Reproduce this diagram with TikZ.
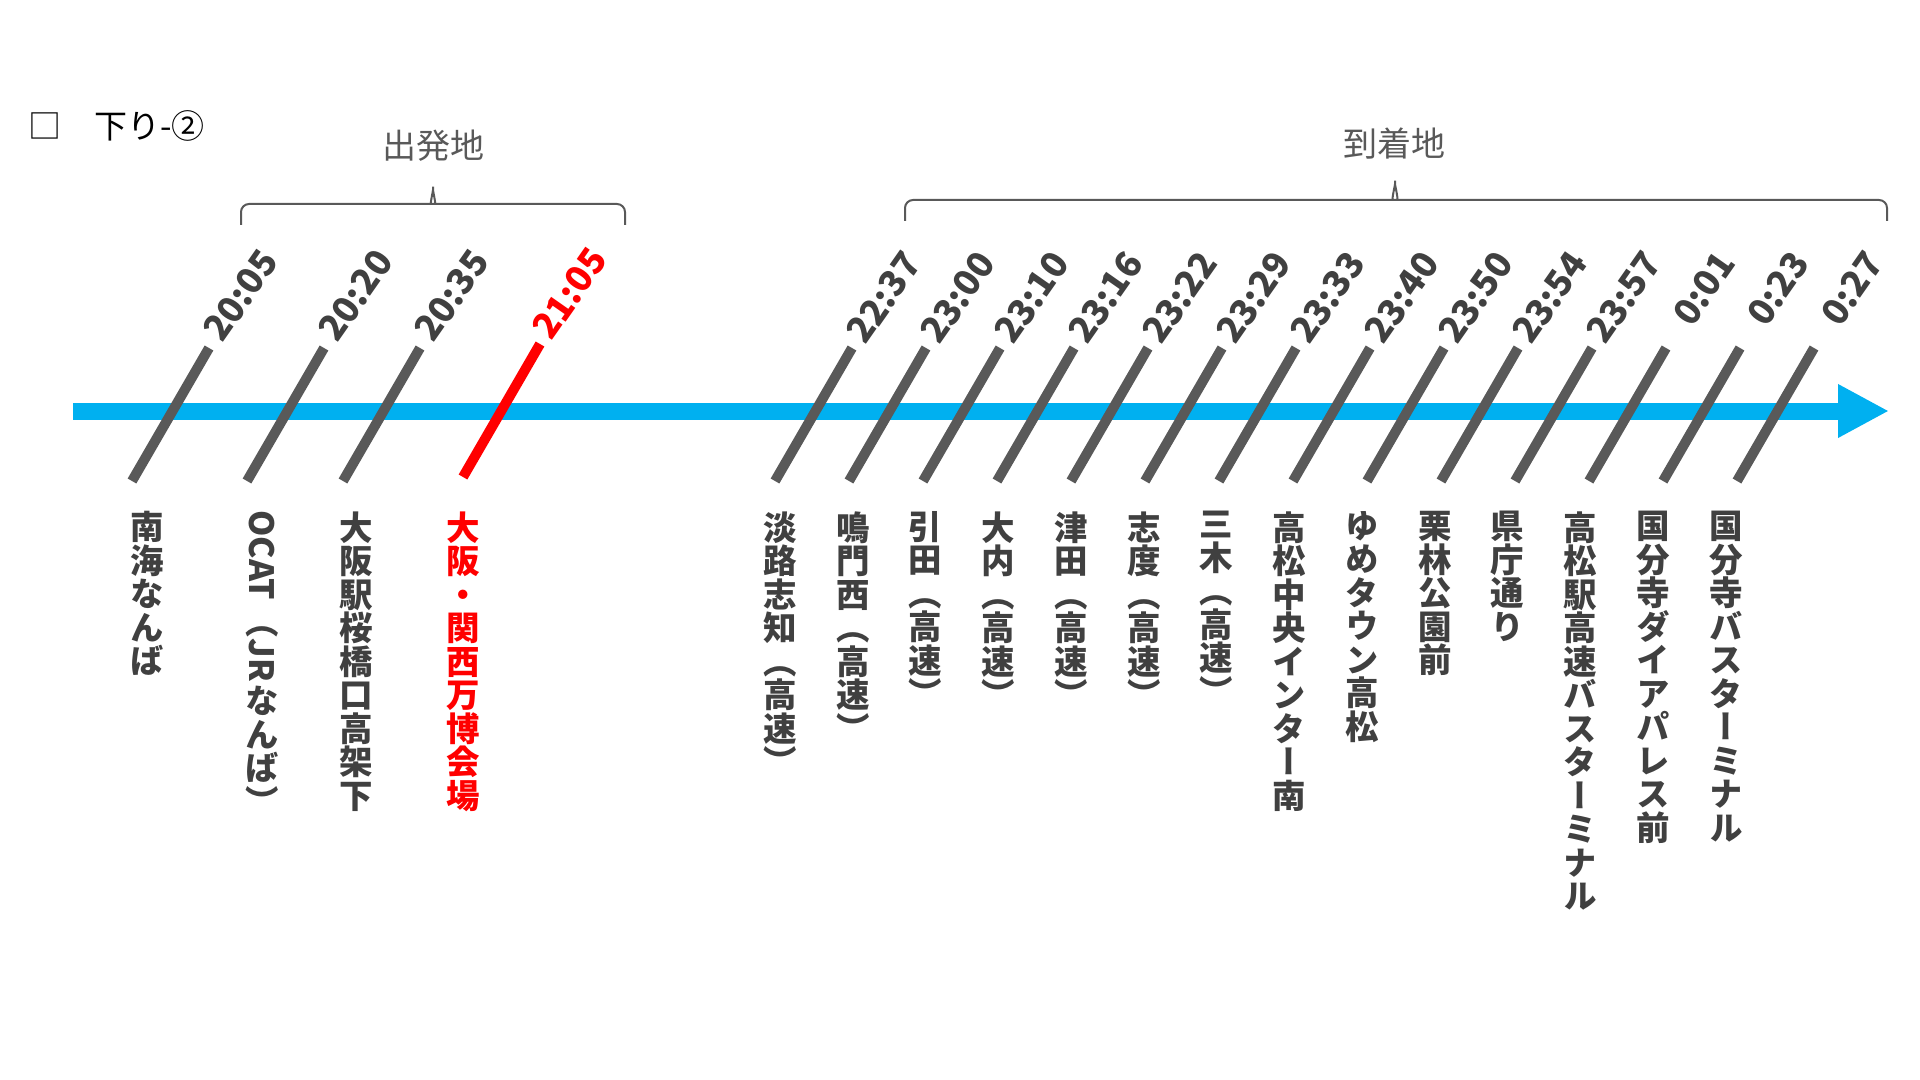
\documentclass[tikz,border=0pt]{standalone}
\usepackage{fontspec}
\usepackage{graphicx}
\usetikzlibrary{arrows.meta}
\newfontfamily\jpfont{Noto Sans CJK JP}
\newfontfamily\jpvert[RawFeature=+vert]{Noto Sans CJK JP}
\definecolor{tickgray}{HTML}{595959}
\definecolor{labelgray}{HTML}{404040}
\definecolor{lineblue}{HTML}{00B0F0}
\tikzset{
  timeline/.style={line width=8.5pt, lineblue, -{Triangle[length=25.5pt,width=25pt]}},
  tick/.style={line width=5pt, tickgray},
  timelabel/.style={rotate=55, anchor=south east, inner sep=0pt, text=labelgray, font=\jpfont\bfseries\fontsize{18}{18}\selectfont},
  station/.style={anchor=north, align=center, inner sep=0pt, text=labelgray, font=\jpvert\bfseries\fontsize{16.75}{16.75}\selectfont},
  latin/.style={station, rotate=-90, anchor=west},
  bracket/.style={tickgray, line width=1pt, rounded corners=4pt},
  bracelabel/.style={text=tickgray, font=\jpfont\fontsize{17}{17}\selectfont}
}
\begin{document}
\begin{tikzpicture}[x=0.5pt,y=-0.5pt]
\useasboundingbox (0,0) rectangle (1920,1080);
\node[anchor=west, font=\jpfont\fontsize{16.5}{16.5}\selectfont] (title) at (21,126) {□　下り-②};
\node[bracelabel] (dep) at (433,146) {出発地};
\node[bracelabel] (arr) at (1394,144) {到着地};
\draw[bracket] (241,225) -- (241,204) -- (427,204) to[out=0,in=-90] (433,182) to[out=-90,in=180] (439,204) -- (625,204) -- (625,225);
\draw[bracket] (905,221) -- (905,200) -- (1389,200) to[out=0,in=-90] (1395,176) to[out=-90,in=180] (1401,200) -- (1887,200) -- (1887,221);
\coordinate (start) at (73,411);
\coordinate (end) at (1889,411);
\draw[timeline] (start) -- (end);
\foreach \x/\t [count=\i] in {132/20:05,247/20:20,343/20:35} {
  \draw[tick] (\x,481) -- ++(77,-133);
  \node[timelabel] (dt\i) at (\x+149,262) {\t};
}
\draw[tick, red] (463,477) -- ++(77,-133);
\node[timelabel, text=red] (dt4) at (610,260) {21:05};
\foreach \t [count=\i from 0] in {22:37,23:00,23:10,23:16,23:22,23:29,23:33,23:40,23:50,23:54,23:57,0:01,0:23,0:27} {
  \draw[tick] (775+74*\i,481) -- ++(77,-133);
  \node[timelabel] (at\i) at (924+74*\i,264) {\t};
}
\node[station] (s1) at (147,511) {南\\海\\な\\ん\\ば};
\node[latin] (s2) at (262,510) {OCAT};
\node[station] (s2a) at (262,626) {（};
\node[latin] (s2b) at (262,638) {JR};
\node[station] (s2c) at (262,686) {な\\ん\\ば\\）};
\node[station] (s3) at (356,511) {大\\阪\\駅\\桜\\橋\\口\\高\\架\\下};
\node[station, text=red] (s4) at (463,511) {大\\阪\\・\\関\\西\\万\\博\\会\\場};
\foreach \s [count=\i from 0] in {
  {淡\\路\\志\\知\\（\\高\\速\\）},
  {鳴\\門\\西\\（\\高\\速\\）},
  {引\\田\\（\\高\\速\\）},
  {大\\内\\（\\高\\速\\）},
  {津\\田\\（\\高\\速\\）},
  {志\\度\\（\\高\\速\\）},
  {三\\木\\（\\高\\速\\）},
  {高\\松\\中\\央\\イ\\ン\\タ\\ー\\南},
  {ゆ\\め\\タ\\ウ\\ン\\高\\松},
  {栗\\林\\公\\園\\前},
  {県\\庁\\通\\り},
  {高\\松\\駅\\高\\速\\バ\\ス\\タ\\ー\\ミ\\ナ\\ル},
  {国\\分\\寺\\ダ\\イ\\ア\\パ\\レ\\ス\\前},
  {国\\分\\寺\\バ\\ス\\タ\\ー\\ミ\\ナ\\ル}}
  \node[station] (a\i) at (780+72.75*\i,511) {\s};
\end{tikzpicture}
\end{document}
